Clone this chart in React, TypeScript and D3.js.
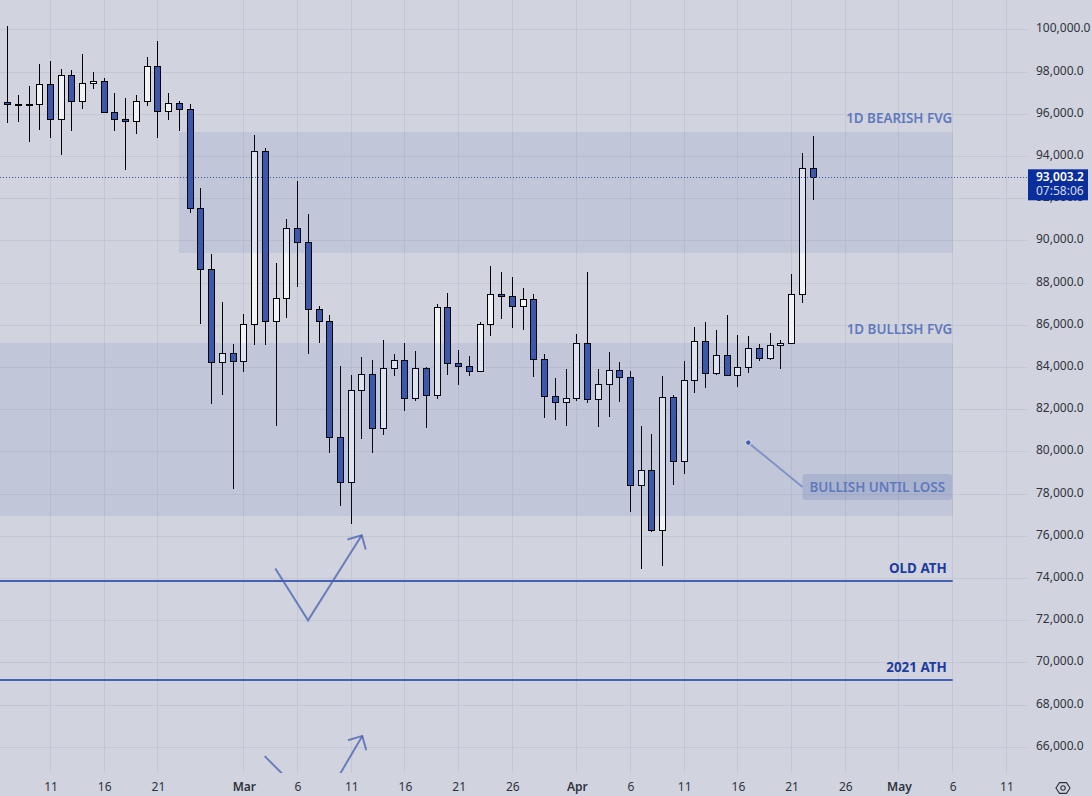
import React, { useRef, useEffect } from 'react';
import * as d3 from 'd3';

const width = 1092;
const height = 796;
const paneRight = 1027;
const paneBottom = 773;

// daily candles, first one is Feb 6
const opens = [
  96560, 96560, 96460, 96460, 96460, 97410, 95750, 97840, 96610, 97460, 97550, 96080, 95750, 95660, 96610, 98260, 96130, 96510, 96230,
  91530, 88640, 84240, 84660, 84280, 86040, 94240, 86180, 87270, 90590, 89920, 86750, 86180, 80680, 78550, 82910, 83670, 81110, 83950,
  84330, 82530, 83950, 82670, 86840, 84190, 84050, 83810, 86040, 87460, 87360, 86890, 87220, 84380, 82630, 82340, 82530, 85140, 82480,
  83190, 83860, 83530, 78410, 79120, 76280, 82580, 79550, 83380, 85230, 83720, 84570, 83620, 84000, 84900, 84430, 85040, 85140, 87460, 93430,
];
const highs = [
  96560, 100170, 96900, 97330, 98370, 98520, 98140, 98090, 98850, 97990, 97700, 97030, 96750, 96900, 98700, 99460, 97030, 96610, 96510,
  92530, 89400, 87090, 85100, 86530, 95010, 94380, 88930, 91030, 92830, 91260, 86900, 86480, 84060, 83630, 84490, 84350, 85290, 84630,
  85150, 84770, 84010, 87000, 87520, 84820, 84540, 86150, 88800, 88520, 88280, 87760, 87470, 84630, 83490, 83920, 85610, 88520, 83920,
  84720, 84250, 83820, 81220, 80840, 83590, 82720, 84300, 85910, 86150, 85770, 86480, 85530, 85480, 85100, 85630, 85290, 88420, 94160, 94960,
];
const lows = [
  96510, 95590, 95640, 94690, 95250, 94880, 94060, 95210, 96250, 97200, 96080, 95210, 93360, 95070, 96400, 94880, 95730, 95210, 91330,
  86050, 82270, 82700, 78250, 83790, 85060, 85060, 81230, 86340, 87820, 84640, 85170, 79950, 77440, 76590, 80620, 79950, 80810, 83600,
  81940, 82420, 81140, 82510, 83650, 83180, 83600, 83810, 85480, 86290, 85860, 85770, 83540, 81610, 81520, 81230, 82420, 82320, 81190,
  81660, 82370, 77160, 74460, 76210, 74600, 78440, 78960, 82800, 83030, 83650, 83620, 83080, 83730, 84310, 84360, 83920, 85140, 87060, 91960,
];
const closes = [
  96510, 96460, 96460, 96460, 97410, 95750, 97840, 96610, 97460, 97550, 96080, 95750, 95660, 96610, 98260, 96130, 96510, 96230, 91530,
  88640, 84240, 84660, 84280, 86040, 94240, 86180, 87270, 90590, 89920, 86750, 86180, 80680, 78550, 82910, 83670, 81110, 83950, 84330,
  82530, 83950, 82670, 86840, 84190, 84050, 83810, 86040, 87460, 87360, 86890, 87220, 84380, 82630, 82340, 82530, 85140, 82480, 83190,
  83860, 83530, 78410, 79120, 76280, 82580, 79550, 83380, 85230, 83720, 84570, 83620, 84000, 84900, 84430, 85040, 85140, 87460, 93430, 93003.2,
];

const priceTicks = d3.range(66000, 100001, 2000);
const dateTickDays = [5, 10, 15, 23, 28, 33, 38, 43, 48, 54, 59, 64, 69, 74, 79, 84, 89, 94];
const dateTickLabels = ['11', '16', '21', 'Mar', '6', '11', '16', '21', '26', 'Apr', '6', '11', '16', '21', '26', 'May', '6', '11'];
const monthLabels = ['Mar', 'Apr', 'May'];

// zones: start day, end day, top price, bottom price
const zoneStart = [17, -2];
const zoneEnd = [89, 89];
const zoneTop = [95150, 85150];
const zoneBottom = [89430, 76970];
const zoneNames = ['1D BEARISH FVG', '1D BULLISH FVG'];

const levelPrices = [73880, 69190];
const levelNames = ['OLD ATH', '2021 ATH'];

// hand drawn arrows, in (day, price)
const arrowDays = [
  [25.93, 28.98, 33.98],
  [24.94, 29.98, 34.03],
];
const arrowPrices = [
  [74470, 72020, 76050],
  [65580, 63020, 66540],
];
const barbDayOffset = [-1.33, 0.37];
const barbPriceOffset = [-205, -680];

const lastPrice = 93003.2;
const lastPriceText = '93,003.2';
const countdownText = '07:58:06';
const calloutPoint = [69.97, 80440];
const calloutText = 'BULLISH UNTIL LOSS';

const bg = '#d1d4de';
const gridColor = '#c4c7d3';
const blue = '#3d58ab';
const lineBlue = '#4560b0';
const labelBlue = '#1d3c9e';
const fadedBlue = '#6079bd';
const axisFont = '"Noto Sans", sans-serif';

const Chart: React.FC = () => {
  const svgRef = useRef<SVGSVGElement | null>(null);

  useEffect(() => {
    if (!svgRef.current) return;
    const svg = d3.select(svgRef.current);
    svg.selectAll('*').remove();

    const x = d3.scaleLinear().domain([0, 89]).range([-3.2, 952.7]);
    const y = d3.scaleLinear().domain([66000, 100000]).range([747.3, 29.9]);
    const snap = (v: number) => Math.floor(v) + 0.5;

    svg.append('rect').attr('width', width).attr('height', height).attr('fill', bg);

    svg.append('defs').append('clipPath').attr('id', 'pane')
      .append('rect').attr('width', paneRight).attr('height', paneBottom);

    // Grid
    svg.append('g').selectAll('line').data(priceTicks).join('line')
      .attr('x1', 0).attr('x2', paneRight)
      .attr('y1', (d) => snap(y(d))).attr('y2', (d) => snap(y(d)))
      .attr('stroke', gridColor);
    svg.append('g').selectAll('line').data(dateTickDays).join('line')
      .attr('x1', (d) => snap(x(d))).attr('x2', (d) => snap(x(d)))
      .attr('y1', 0).attr('y2', paneBottom)
      .attr('stroke', gridColor);

    const pane = svg.append('g').attr('clip-path', 'url(#pane)');

    // Candles
    const candles = pane.selectAll('g.candle').data(closes).join('g').attr('class', 'candle');
    candles.append('line')
      .attr('x1', (_, i) => snap(x(i))).attr('x2', (_, i) => snap(x(i)))
      .attr('y1', (_, i) => Math.round(y(highs[i]))).attr('y2', (_, i) => Math.round(y(lows[i])))
      .attr('stroke', '#000');
    candles.append('rect')
      .attr('x', (_, i) => snap(x(i)) - 3)
      .attr('width', 6)
      .attr('y', (_, i) => snap(y(Math.max(opens[i], closes[i]))))
      .attr('height', (_, i) => Math.max(1, Math.round(Math.abs(y(opens[i]) - y(closes[i])))))
      .attr('fill', (_, i) => (closes[i] < opens[i] ? blue : '#f0f2f6'))
      .attr('stroke', '#000');

    // Zones sit on top of the candles
    pane.append('g').selectAll('rect').data(zoneTop).join('rect')
      .attr('x', (_, i) => Math.round(x(zoneStart[i])))
      .attr('width', (_, i) => Math.round(x(zoneEnd[i])) - Math.round(x(zoneStart[i])))
      .attr('y', (d) => Math.round(y(d)))
      .attr('height', (d, i) => Math.round(y(zoneBottom[i])) - Math.round(y(d)))
      .attr('fill', '#3f57a5')
      .attr('fill-opacity', 0.1);

    pane.append('g').selectAll('text').data(zoneNames).join('text')
      .attr('x', x(89) - 0.5)
      .attr('y', (_, i) => y(zoneTop[i]) - 14)
      .attr('dy', '0.35em')
      .attr('text-anchor', 'end')
      .attr('font-family', axisFont)
      .attr('font-size', 13.4)
      .attr('font-weight', 600)
      .attr('fill', fadedBlue)
      .text((d) => d);

    // Horizontal levels
    pane.append('g').selectAll('line').data(levelPrices).join('line')
      .attr('x1', 0).attr('x2', x(89))
      .attr('y1', (d) => y(d)).attr('y2', (d) => y(d))
      .attr('stroke', lineBlue).attr('stroke-width', 2);
    pane.append('g').selectAll('text').data(levelNames).join('text')
      .attr('x', x(89) - 6)
      .attr('y', (_, i) => y(levelPrices[i]) - 13)
      .attr('dy', '0.35em')
      .attr('text-anchor', 'end')
      .attr('font-family', axisFont)
      .attr('font-size', 13.4)
      .attr('font-weight', 700)
      .attr('fill', labelBlue)
      .text((d) => d);

    // Arrows
    const arrowLine = d3.line<[number, number]>().x((d) => x(d[0])).y((d) => y(d[1]));
    arrowDays.forEach((days, a) => {
      const prices = arrowPrices[a];
      const tipDay = days[2];
      const tipPrice = prices[2];
      pane.append('path')
        .attr('d', arrowLine(days.map((d, i) => [d, prices[i]] as [number, number])))
        .attr('fill', 'none').attr('stroke', lineBlue).attr('stroke-opacity', 0.75).attr('stroke-width', 2);
      pane.append('path')
        .attr('d', arrowLine([
          [tipDay + barbDayOffset[0], tipPrice + barbPriceOffset[0]],
          [tipDay, tipPrice],
          [tipDay + barbDayOffset[1], tipPrice + barbPriceOffset[1]],
        ]))
        .attr('fill', 'none').attr('stroke', lineBlue).attr('stroke-opacity', 0.75).attr('stroke-width', 2);
    });

    // Callout
    const boxX = 802.5;
    const boxY = 474;
    const boxW = 149.5;
    const boxH = 26;
    pane.append('line')
      .attr('x1', x(calloutPoint[0])).attr('y1', y(calloutPoint[1]))
      .attr('x2', boxX).attr('y2', boxY + boxH / 2)
      .attr('stroke', '#7f93c9').attr('stroke-width', 2);
    pane.append('circle')
      .attr('cx', x(calloutPoint[0])).attr('cy', y(calloutPoint[1])).attr('r', 2.8)
      .attr('fill', lineBlue).attr('stroke', '#e6e9f2').attr('stroke-width', 1);
    pane.append('rect')
      .attr('x', boxX).attr('y', boxY).attr('width', boxW).attr('height', boxH).attr('rx', 3)
      .attr('fill', '#3f57a5').attr('fill-opacity', 0.17);
    pane.append('text')
      .attr('x', boxX + boxW / 2).attr('y', boxY + boxH / 2 + 0.5)
      .attr('dy', '0.35em').attr('text-anchor', 'middle')
      .attr('font-family', axisFont).attr('font-size', 13.4).attr('font-weight', 600)
      .attr('fill', fadedBlue)
      .text(calloutText);

    // Last price line
    svg.append('line')
      .attr('x1', 0).attr('x2', paneRight)
      .attr('y1', snap(y(lastPrice))).attr('y2', snap(y(lastPrice)))
      .attr('stroke', '#3a4fa0').attr('stroke-dasharray', '1 2');

    // Axes
    const yAxis = d3.axisRight(y)
      .tickValues(priceTicks)
      .tickSize(0)
      .tickPadding(0)
      .tickFormat((d) => d3.format(',.1f')(d as number));
    const yAxisG = svg.append('g').attr('transform', 'translate(1036, -1.8)').call(yAxis);
    yAxisG.select('.domain').remove();
    yAxisG.selectAll('text')
      .attr('text-anchor', 'start')
      .attr('font-family', axisFont)
      .attr('font-size', 12)
      .attr('fill', '#2f333d');

    const xAxis = d3.axisBottom(x)
      .tickValues(dateTickDays)
      .tickSize(0)
      .tickPadding(0)
      .tickFormat((_, i) => dateTickLabels[i]);
    const xAxisG = svg.append('g').attr('transform', 'translate(0, 782)').call(xAxis);
    xAxisG.select('.domain').remove();
    xAxisG.selectAll('text')
      .attr('font-family', axisFont)
      .attr('font-size', 12)
      .attr('fill', '#2f333d')
      .attr('font-weight', (_, i) => (monthLabels.includes(dateTickLabels[i]) ? 600 : 400));

    // Last price tag
    svg.append('rect')
      .attr('x', 1028).attr('y', snap(y(lastPrice)) - 8.2).attr('width', 60).attr('height', 31)
      .attr('fill', '#0a2f9c');
    svg.append('g').selectAll('text').data([lastPriceText, countdownText]).join('text')
      .attr('x', 1036)
      .attr('y', (_, i) => snap(y(lastPrice)) - 1 + i * 14)
      .attr('dy', '0.35em')
      .attr('text-anchor', 'start')
      .attr('font-family', axisFont)
      .attr('font-size', 12)
      .attr('font-weight', (_, i) => (i === 0 ? 600 : 400))
      .attr('fill', (_, i) => (i === 0 ? '#ffffff' : '#d5dbef'))
      .text((d) => d);

    // Settings icon
    const hexagon = d3.line<number>()
      .x((d) => 1063 + 7 * Math.cos((d * Math.PI) / 3))
      .y((d) => 788 + 6.2 * Math.sin((d * Math.PI) / 3))
      .curve(d3.curveLinearClosed);
    svg.append('path').attr('d', hexagon(d3.range(6)))
      .attr('fill', 'none').attr('stroke', '#2f333d').attr('stroke-width', 1.1);
    svg.append('circle').attr('cx', 1063).attr('cy', 788).attr('r', 2.2)
      .attr('fill', 'none').attr('stroke', '#2f333d').attr('stroke-width', 1.1);
  }, []);

  return (
    <svg
      ref={svgRef}
      width={width}
      height={height}
      style={{ position: 'fixed', left: 0, top: 0, display: 'block' }}
    />
  );
};

export default function App() {
  return <Chart />;
}
